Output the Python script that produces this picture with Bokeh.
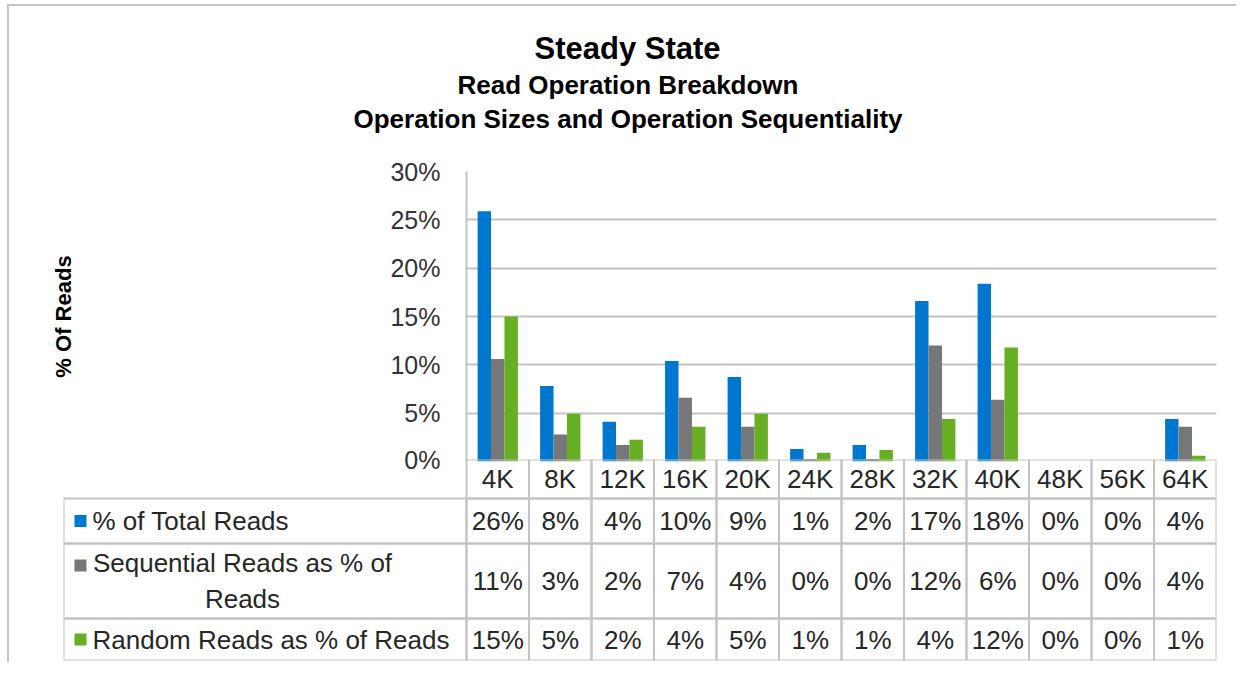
from bokeh.plotting import figure
from bokeh.models import FactorRange, Range1d, FixedTicker, Title, ColumnDataSource
from bokeh.transform import dodge
from bokeh.embed import file_html
from bokeh.resources import INLINE
from bokeh.core.properties import value

# ---------------- data ----------------
categories = ["4K", "8K", "12K", "16K", "20K", "24K", "28K", "32K", "40K", "48K", "56K", "64K"]
total_reads = [25.9, 7.8, 4.1, 10.4, 8.75, 1.3, 1.7, 16.6, 18.4, 0.0, 0.0, 4.4]
sequential_reads = [10.6, 2.8, 1.7, 6.6, 3.6, 0.25, 0.25, 12.0, 6.4, 0.0, 0.0, 3.6]
random_reads = [15.0, 4.95, 2.25, 3.6, 4.95, 0.9, 1.2, 4.4, 11.8, 0.0, 0.0, 0.6]
series_names = ["% of Total Reads", "Sequential Reads as % of\nReads", "Random Reads as % of Reads"]
y_ticks = [0, 5, 10, 15, 20, 25, 30]
y_tick_labels = ["0%", "5%", "10%", "15%", "20%", "25%", "30%"]
title_lines = ["Steady State", "Read Operation Breakdown",
               "Operation Sizes and Operation Sequentiality"]

# ---------------- style ----------------
BLUE = "#0077cf"
GRAY = "#767779"
GREEN = "#66af22"
LINE = "#c4c4c4"
TXT = "#262626"
FONT = "Liberation Sans"
colors = [BLUE, GRAY, GREEN]
series_values = [total_reads, sequential_reads, random_reads]

W = 1229
FR_LEFT = 457      # frame left inside figure
FR_RIGHT = 22
HDR_PX = 403       # width of table row-header column
COL_PX = (W - FR_LEFT - FR_RIGHT) / len(categories)
HDR_UNITS = HDR_PX / COL_PX
BOTTOM_PAD = 14
PAGE_LEFT = 9

# ---------------- chart ----------------
p = figure(x_range=FactorRange(*categories), y_range=Range1d(0, 30),
           width=W, height=469, output_backend="svg", toolbar_location=None,
           min_border_left=FR_LEFT, min_border_right=FR_RIGHT,
           min_border_top=165, min_border_bottom=BOTTOM_PAD)
p.styles = {"margin-left": "7px", "margin-top": "4px",
            "border-left": f"2px solid {LINE}", "border-top": f"2px solid {LINE}"}
p.outline_line_color = None
p.background_fill_color = "white"
p.border_fill_color = "white"
p.xaxis.visible = False
p.xgrid.grid_line_color = None
p.ygrid.grid_line_color = LINE
p.ygrid.grid_line_width = 2
p.ygrid.ticker = FixedTicker(ticks=y_ticks)

ax = p.yaxis[0]
ax.ticker = FixedTicker(ticks=y_ticks)
ax.major_label_overrides = {t: lab for t, lab in zip(y_ticks, y_tick_labels)}
ax.major_tick_line_color = None
ax.minor_tick_line_color = None
ax.axis_line_color = LINE
ax.axis_line_width = 2
ax.major_label_standoff = 20
ax.major_label_text_font = FONT
ax.major_label_text_font_size = "25px"
ax.major_label_text_color = "#333333"
ax.axis_label = "% Of Reads"
ax.axis_label_text_font = FONT
ax.axis_label_text_font_size = "22px"
ax.axis_label_text_font_style = "bold"
ax.axis_label_text_color = "black"
ax.axis_label_standoff = 311

src = ColumnDataSource(dict(cat=categories, total=total_reads,
                            seq=sequential_reads, rnd=random_reads))
bw = 0.215
for off, col, c in zip([-bw, 0.0, bw], ["total", "seq", "rnd"], colors):
    p.vbar(x=dodge("cat", off, range=p.x_range), top=col, width=bw,
           source=src, fill_color=c, line_color=None)

# chart title: three lines centred over the whole chart (x = 627 on the page).
# Titles are left-aligned with an offset from the frame's left edge, using the
# rendered width of each line.
TITLE_CENTER = 627
frame_left_page = PAGE_LEFT + FR_LEFT
title_sizes = ["31px", "26px", "26px"]
title_widths = [186, 340, 548]
p.add_layout(Title(text=" ", text_font_size="1px", standoff=34), "above")
for txt, size, w in reversed(list(zip(title_lines, title_sizes, title_widths))):
    p.add_layout(Title(text=txt, align="left",
                       offset=TITLE_CENTER - w / 2 - frame_left_page,
                       text_font=FONT, text_font_size=size,
                       text_font_style="bold", text_color="black",
                       standoff=2), "above")

# ---------------- data table ----------------
row_bounds = [0, 39, 84, 159, 201]
t = figure(x_range=Range1d(-HDR_UNITS, len(categories)), y_range=Range1d(201, 0),
           width=W, height=203, output_backend="svg", toolbar_location=None,
           min_border_left=FR_LEFT - HDR_PX, min_border_right=FR_RIGHT,
           min_border_top=0, min_border_bottom=2)
t.styles = {"margin-left": "7px", "margin-top": f"-{BOTTOM_PAD}px",
            "border-left": f"2px solid {LINE}"}
t.outline_line_color = None
t.background_fill_color = None
t.border_fill_color = None
t.axis.visible = False
t.grid.grid_line_color = None

n = len(categories)
t.quad(left=list(range(n)), right=[i + 1 for i in range(n)],
       top=[row_bounds[0]] * n, bottom=[row_bounds[1]] * n,
       fill_color=None, line_color=LINE, line_width=2)
t.text(x=[i + 0.5 for i in range(n)], y=[(row_bounds[0] + row_bounds[1]) / 2] * n,
       text=categories, text_align="center", text_baseline="middle",
       text_font=value(FONT), text_font_size="26px", text_color=TXT)

mark_x = -HDR_UNITS + 17 / COL_PX
label_x = -HDR_UNITS + 29 / COL_PX
for r, (name, vals, c) in enumerate(zip(series_names, series_values, colors)):
    top_b, bot_b = row_bounds[r + 1], row_bounds[r + 2]
    mid = (top_b + bot_b) / 2
    t.quad(left=[-HDR_UNITS] + list(range(n)), right=[0] + [i + 1 for i in range(n)],
           top=[top_b] * (n + 1), bottom=[bot_b] * (n + 1),
           fill_color=None, line_color=LINE, line_width=2)
    t.text(x=[i + 0.5 for i in range(n)], y=[mid] * n,
           text=[f"{round(v)}%" for v in vals], text_align="center",
           text_baseline="middle", text_font=value(FONT),
           text_font_size="26px", text_color=TXT)
    lines = name.split("\n")
    if len(lines) == 1:
        t.scatter(x=[mark_x], y=[mid], marker="square", size=12,
                  fill_color=c, line_color=None)
        t.text(x=[label_x], y=[mid], text=[name], text_align="left",
               text_baseline="middle", text_font=value(FONT),
               text_font_size="26px", text_color=TXT)
    else:
        t.scatter(x=[mark_x], y=[mid - 15.5], marker="square", size=12,
                  fill_color=c, line_color=None)
        t.text(x=[label_x + 150 / COL_PX], y=[mid], text=[name], text_align="center",
               text_baseline="middle", text_font=value(FONT),
               text_font_size="26px", text_color=TXT, text_line_height=1.2)

open("out.html", "w").write(file_html([p, t], INLINE))
